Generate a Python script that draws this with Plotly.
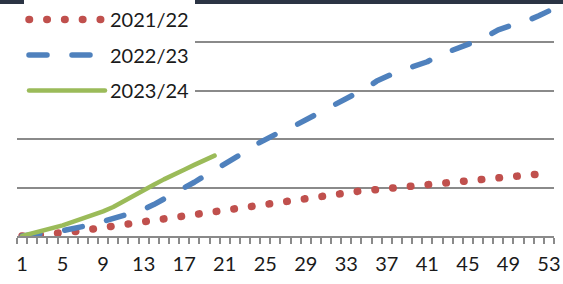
import plotly.graph_objects as go

# --- data (y in gridline units) ---
weeks = list(range(1, 54))
tick_weeks = list(range(1, 54, 4))

s2021_22 = [0.00, 0.01, 0.02, 0.04, 0.06, 0.085, 0.115, 0.145, 0.175, 0.21,
            0.245, 0.275, 0.30, 0.325, 0.35, 0.38, 0.415, 0.45, 0.49, 0.525,
            0.555, 0.585, 0.615, 0.65, 0.685, 0.715, 0.745, 0.77, 0.80, 0.83,
            0.86, 0.885, 0.90, 0.92, 0.94, 0.96, 0.98, 1.00, 1.015, 1.035,
            1.05, 1.065, 1.085, 1.10, 1.12, 1.145, 1.17, 1.195, 1.22, 1.245,
            1.26, 1.28]
s2022_23 = [0.00, 0.02, 0.05, 0.08, 0.11, 0.15, 0.18, 0.24, 0.30, 0.36,
            0.41, 0.47, 0.55, 0.65, 0.76, 0.88, 1.00, 1.11, 1.24, 1.36,
            1.51, 1.63, 1.74, 1.88, 2.00, 2.10, 2.18, 2.29, 2.39, 2.49,
            2.59, 2.70, 2.81, 2.93, 3.06, 3.20, 3.30, 3.39, 3.46, 3.53,
            3.60, 3.72, 3.80, 3.86, 3.94, 4.04, 4.14, 4.26, 4.33, 4.39,
            4.46, 4.55, 4.65]
s2023_24 = [0.00, 0.05, 0.11, 0.16, 0.22, 0.29, 0.36, 0.43, 0.51, 0.60,
            0.72, 0.84, 0.96, 1.06, 1.17, 1.28, 1.37, 1.47, 1.56, 1.66]

series_names = ["2021/22", "2022/23", "2023/24"]
series_values = [s2021_22, s2022_23, s2023_24]
series_colors = ["#C0504D", "#4F81BD", "#9BBB59"]
series_widths = [7.5, 5.5, 4.5]
series_dashes = ["0.5px,17.3px", "18px,25px", "solid"]

FONT = "Lato"
GRID = "#8a8a8a"

fig = go.Figure()
for name, vals, col, w, d in zip(series_names, series_values, series_colors,
                                 series_widths, series_dashes):
    fig.add_trace(go.Scatter(
        x=weeks[:len(vals)], y=vals, name=name, mode="lines",
        legendgroup=name,
        line=dict(color=col, width=w, dash=d),
        hoverinfo="skip",
    ))

fig.update_layout(
    width=563, height=284,
    margin=dict(l=17, r=9, t=4, b=48, autoexpand=False),
    paper_bgcolor="white", plot_bgcolor="white",
    font=dict(family=FONT, size=20, color="#1a1a1a"),
    showlegend=True,
    legend=dict(
        x=7 / 537, y=1 + 4 / 232, xanchor="left", yanchor="top",
        bgcolor="white", borderwidth=0,
        itemwidth=76, tracegroupgap=6.5,
        font=dict(family=FONT, size=20, color="#1a1a1a"),
    ),
    xaxis=dict(
        range=[0.5, 53.5],
        tickmode="array", tickvals=tick_weeks, ticktext=[str(v) for v in tick_weeks],
        ticks="outside", ticklen=1, tickcolor="rgba(0,0,0,0)",
        ticklabelstandoff=8, ticklabeloverflow="allow",
        minor=dict(tickmode="linear", tick0=0.5, dtick=1, ticks="outside",
                   ticklen=6, tickcolor=GRID, tickwidth=1.5, showgrid=False),
        showline=True, linecolor=GRID, linewidth=1.5,
        showgrid=False, zeroline=False,
        tickfont=dict(family=FONT, size=20, color="#1a1a1a"),
    ),
    yaxis=dict(
        range=[0, 232 / 48.4],
        tickmode="linear", tick0=0, dtick=1,
        showticklabels=False, ticks="",
        showgrid=True, gridcolor=GRID, gridwidth=1.5,
        zeroline=False, showline=False,
    ),
    shapes=[
        # dark strip of the slide above the chart
        dict(type="rect", xref="paper", yref="paper",
             x0=-1, x1=2, y0=1.0, y1=1.5,
             fillcolor="#2b3444", line=dict(width=0), layer="above"),
        # legend box background reaches the plot's left edge
        dict(type="rect", xref="paper", yref="paper",
             x0=0, x1=0.015, y0=0.55, y1=1.0,
             fillcolor="white", line=dict(width=0), layer="above"),
    ],
)

post = """
document.documentElement.style.margin='0';
document.body.style.margin='0'; document.body.style.padding='0';
function rc(){document.querySelectorAll('path.js-line').forEach(function(p){
 p.style.strokeLinecap='round'; p.style.strokeLinejoin='round';});}
rc(); setTimeout(rc, 50); setTimeout(rc, 300);
"""
fig.write_html("out.html", post_script=post, config={"displayModeBar": False})
